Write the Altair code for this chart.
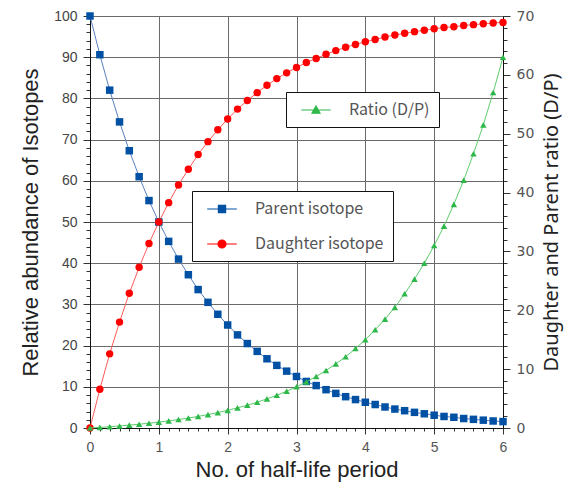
import altair as alt
import pandas as pd

# half-life periods (x), sampled every 1/7 of a half-life
half_lives = [0, 0.143, 0.286, 0.429, 0.571, 0.714, 0.857,
              1, 1.143, 1.286, 1.429, 1.571, 1.714, 1.857,
              2, 2.143, 2.286, 2.429, 2.571, 2.714, 2.857,
              3, 3.143, 3.286, 3.429, 3.571, 3.714, 3.857,
              4, 4.143, 4.286, 4.429, 4.571, 4.714, 4.857,
              5, 5.143, 5.286, 5.429, 5.571, 5.714, 5.857, 6]

parent = [100, 90.6, 82.0, 74.3, 67.3, 61.0, 55.2,
          50.0, 45.3, 41.0, 37.2, 33.6, 30.5, 27.6,
          25.0, 22.6, 20.5, 18.6, 16.8, 15.2, 13.8,
          12.5, 11.3, 10.3, 9.3, 8.4, 7.6, 6.9,
          6.25, 5.7, 5.1, 4.6, 4.2, 3.8, 3.45,
          3.1, 2.8, 2.6, 2.3, 2.1, 1.9, 1.7, 1.56]

daughter = [0, 9.4, 18.0, 25.7, 32.7, 39.0, 44.8,
            50.0, 54.7, 59.0, 62.8, 66.4, 69.5, 72.4,
            75.0, 77.4, 79.5, 81.4, 83.2, 84.8, 86.2,
            87.5, 88.7, 89.7, 90.7, 91.6, 92.4, 93.1,
            93.75, 94.3, 94.9, 95.4, 95.8, 96.2, 96.55,
            96.9, 97.2, 97.4, 97.7, 97.9, 98.1, 98.3, 98.44]

ratio = [0, 0.10, 0.22, 0.35, 0.49, 0.64, 0.81,
         1.0, 1.21, 1.44, 1.69, 1.97, 2.28, 2.62,
         3.0, 3.42, 3.88, 4.38, 4.95, 5.56, 6.25,
         7.0, 7.83, 8.75, 9.77, 10.9, 12.1, 13.5,
         15.0, 16.7, 18.5, 20.5, 22.8, 25.3, 28.0,
         31.0, 34.3, 38.0, 42.1, 46.6, 51.5, 57.0, 63.0]

series_names = ["Parent isotope", "Daughter isotope"]
ratio_name = ["Ratio (D/P)"]

marker_colors = ["#0050a4", "#ff0000"]
line_colors = ["#5a7fbf", "#ff5a5a"]
ratio_marker = "#2fb84a"
ratio_line = "#5fcc6c"

left_df = pd.DataFrame({
    "t": half_lives * 2,
    "value": parent + daughter,
    "series": [series_names[0]] * len(parent) + [series_names[1]] * len(daughter),
})
right_df = pd.DataFrame({
    "t": half_lives,
    "ratio": ratio,
    "rseries": ratio_name * len(ratio),
})

x_ticks = half_lives
left_ticks = list(range(0, 101, 2))
right_ticks = list(range(0, 71, 2))

# legend symbols: a line with a marker in the middle
sym_square = "M-1.85,0H1.85M-0.45,-0.45H0.45V0.45H-0.45Z"
sym_circle = "M-1.85,0H1.85M0.5,0A0.5,0.5,0,1,1,-0.5,0A0.5,0.5,0,1,1,0.5,0Z"
sym_tri = "M-1.85,0H1.85M0,-0.5L0.5,0.4H-0.5Z"

LABEL_FONT = "Liberation Sans"

x_enc = alt.X(
    "t:Q",
    scale=alt.Scale(domain=[0, 6], nice=False),
    axis=alt.Axis(
        values=x_ticks,
        labelExpr="abs(datum.value - round(datum.value)) < 0.01 ? format(round(datum.value), 'd') : ''",
        tickSize={"expr": "abs(datum.value - round(datum.value)) < 0.01 ? 6 : 3"},
        gridOpacity={"expr": "abs(datum.value - round(datum.value)) < 0.01 ? 1 : 0"},
        grid=True, gridColor="#6a6a6a", gridWidth=1,
        tickColor="#333", domainColor="#111", labelFlush=False,
        labelFont=LABEL_FONT, labelFontSize=14, labelColor="#555", labelPadding=6,
        title="No. of half-life period", titleFont=LABEL_FONT, titleFontSize=22,
        titleFontWeight="normal", titleColor="#222", titlePadding=5,
    ),
)

y_left = alt.Y(
    "value:Q",
    scale=alt.Scale(domain=[0, 100], nice=False),
    axis=alt.Axis(
        values=left_ticks,
        labelExpr="datum.value % 10 == 0 ? datum.label : ''",
        tickSize={"expr": "datum.value % 10 == 0 ? 7 : 4"},
        gridOpacity={"expr": "datum.value % 10 == 0 ? 1 : 0"},
        grid=True, gridColor="#6a6a6a", gridWidth=1,
        tickColor="#333", domainColor="#111", labelFlush=False,
        labelFont=LABEL_FONT, labelFontSize=14, labelColor="#444", labelPadding=6,
        title="Relative abundance of Isotopes", titleFont=LABEL_FONT, titleFontSize=22,
        titleFontWeight="normal", titleColor="#222", titlePadding=11,
    ),
)

y_right = alt.Y(
    "ratio:Q",
    scale=alt.Scale(domain=[0, 70], nice=False),
    axis=alt.Axis(
        orient="right",
        values=right_ticks,
        labelExpr="datum.value % 10 == 0 ? datum.label : ''",
        tickSize={"expr": "datum.value % 10 == 0 ? 7 : 4"},
        grid=False, labelFlush=False,
        tickColor="#333", domainColor="#111",
        labelFont="DejaVu Sans", labelFontSize=14, labelColor="#555", labelPadding=6,
        title="Daughter and Parent ratio (D/P)", titleFont="Noto Sans", titleFontSize=20,
        titleFontWeight="normal", titleColor="#222", titlePadding=8, titleAngle=270,
        titleBaseline="top",
    ),
)

def legend(x, y):
    return alt.Legend(
        orient="none", legendX=x, legendY=y, title=None,
        padding=9, symbolOffset=12, labelOffset=24, rowPadding=18,
        strokeColor="#111", fillColor="white", cornerRadius=0,
        labelFont="Noto Sans CJK JP", labelFontSize=16, labelColor="#555",
        symbolSize=256, symbolStrokeWidth=1.2, symbolOpacity=1,
    )

base_left = alt.Chart(left_df)
base_right = alt.Chart(right_df)

parent_line = base_left.transform_filter(alt.datum.series == series_names[0]).mark_line(
    color=line_colors[0], strokeWidth=1).encode(x=x_enc, y=y_left)
parent_pts = base_left.transform_filter(alt.datum.series == series_names[0]).mark_square(
    color=marker_colors[0], size=56, opacity=1).encode(x=x_enc, y=y_left)
daughter_line = base_left.transform_filter(alt.datum.series == series_names[1]).mark_line(
    color=line_colors[1], strokeWidth=1).encode(x=x_enc, y=y_left)
daughter_pts = base_left.transform_filter(alt.datum.series == series_names[1]).mark_circle(
    color=marker_colors[1], size=55, opacity=1).encode(x=x_enc, y=y_left)

left_legend = base_left.mark_point(opacity=0, size=256).encode(
    x=x_enc, y=y_left,
    fill=alt.Fill("series:N", scale=alt.Scale(domain=series_names, range=marker_colors),
                  legend=legend(102, 175)),
    stroke=alt.Stroke("series:N", scale=alt.Scale(domain=series_names, range=marker_colors),
                      legend=legend(102, 175)),
    shape=alt.Shape("series:N", scale=alt.Scale(domain=series_names, range=[sym_square, sym_circle]),
                    legend=legend(102, 175)),
)

ratio_line_l = base_right.mark_line(color=ratio_line, strokeWidth=1).encode(x=x_enc, y=y_right)
ratio_pts = base_right.mark_point(shape="triangle-up", filled=True, color=ratio_marker,
                                  size=42, opacity=1).encode(x=x_enc, y=y_right)
right_legend = base_right.mark_point(opacity=0, size=256).encode(
    x=x_enc, y=y_right,
    fill=alt.Fill("rseries:N", scale=alt.Scale(domain=ratio_name, range=[ratio_marker]),
                  legend=legend(196, 76)),
    stroke=alt.Stroke("rseries:N", scale=alt.Scale(domain=ratio_name, range=[ratio_marker]),
                      legend=legend(196, 76)),
    shape=alt.Shape("rseries:N", scale=alt.Scale(domain=ratio_name, range=[sym_tri]),
                    legend=legend(196, 76)),
)

left = alt.layer(parent_line, daughter_line, parent_pts, daughter_pts, left_legend)
right = alt.layer(ratio_line_l, ratio_pts, right_legend)

chart = alt.layer(left, right).resolve_scale(
    y="independent", fill="independent", stroke="independent", shape="independent"
).resolve_legend(
    fill="independent", stroke="independent", shape="independent"
).properties(
    width=413, height=412,
    autosize="none",
    padding={"left": 82, "top": 8, "right": 62, "bottom": 54},
    background="white",
).configure_view(stroke="#111", strokeWidth=1)

chart.save("out.html", embed_options={"renderer": "svg", "actions": False})
